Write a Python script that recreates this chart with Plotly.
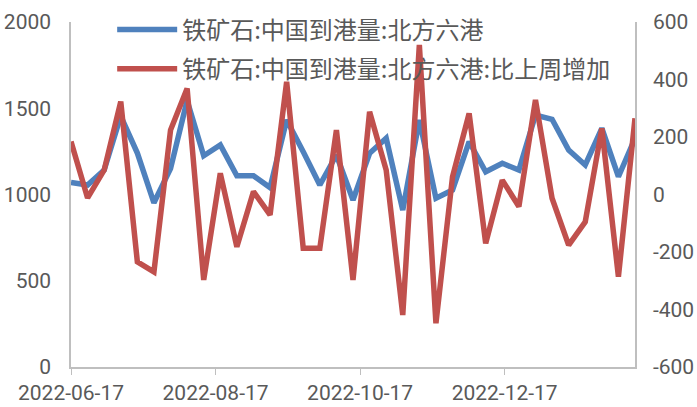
import plotly.graph_objects as go
import pandas as pd

dates = pd.date_range("2022-06-17", periods=35, freq="7D").strftime("%Y-%m-%d").tolist()

arrivals = [1070, 1055, 1142, 1455, 1240, 952, 1150, 1545, 1225, 1287,
            1108, 1108, 1040, 1432, 1248, 1055, 1229, 968, 1239, 1326,
            910, 1432, 978, 1026, 1306, 1132, 1181, 1142, 1461, 1436,
            1258, 1171, 1384, 1103, 1326]

weekly_change = [184, -12, 85, 323, -234, -269, 224, 369, -297, 74,
                 -182, 10, -71, 392, -187, -187, 224, -297, 288, 85,
                 -419, 520, -448, 62, 282, -170, 50, -42, 329, -13,
                 -176, -95, 230, -286, 265]

name_arrivals = "铁矿石:中国到港量:北方六港"
name_change = "铁矿石:中国到港量:北方六港:比上周增加"

x_tickvals = ["2022-06-17", "2022-08-17", "2022-10-17", "2022-12-17"]
left_ticks = [0, 500, 1000, 1500, 2000]
right_ticks = [-600, -400, -200, 0, 200, 400, 600]
right_ticktext = ["-600", "-400", "-200", "0", "200", "400", "600"]

grey = "#595959"
axis_col = "#BFBFBF"
tick_font = dict(family="Roboto, sans-serif", size=21, color=grey)

fig = go.Figure()
fig.add_trace(go.Scatter(x=dates, y=arrivals, name=name_arrivals, mode="lines",
                         legendgroup="a",
                         line=dict(color="#4F81BD", width=5.5), yaxis="y"))
fig.add_trace(go.Scatter(x=dates, y=weekly_change, name=name_change, mode="lines",
                         legendgroup="b",
                         line=dict(color="#C0504D", width=5.5), yaxis="y2"))

fig.update_layout(
    width=697, height=407,
    margin=dict(l=71, r=62, t=22, b=40, autoexpand=False),
    paper_bgcolor="white", plot_bgcolor="white",
    showlegend=True,
    legend=dict(x=0.073, y=1.042, xanchor="left", yanchor="top",
                bgcolor="rgba(0,0,0,0)",
                font=dict(family="Noto Sans CJK SC, sans-serif", size=24, color=grey),
                itemwidth=60, tracegroupgap=5),
    xaxis=dict(type="date", range=[dates[0], dates[-1]],
               tickvals=x_tickvals, ticktext=x_tickvals,
               showgrid=False, zeroline=False, automargin=False,
               showline=True, linecolor=axis_col, linewidth=1.5,
               ticks="outside", ticklen=6, tickcolor=axis_col,
               ticklabelstandoff=0, tickfont=tick_font),
    yaxis=dict(range=[0, 2000], tickvals=left_ticks, showgrid=False, zeroline=False,
               automargin=False,
               showline=True, linecolor=axis_col, linewidth=1.5,
               ticks="", ticklabelstandoff=14, tickfont=tick_font),
    yaxis2=dict(range=[-600, 600], tickvals=right_ticks, ticktext=right_ticktext,
                overlaying="y", side="right",
                showgrid=False, zeroline=False, automargin=False,
                showline=True, linecolor=axis_col, linewidth=1.5,
                ticks="", ticklabelstandoff=12, tickfont=tick_font),
)

fig.write_html("out.html", config={"displayModeBar": False},
               post_script="document.body.style.margin='0';document.body.style.overflow='hidden';")
